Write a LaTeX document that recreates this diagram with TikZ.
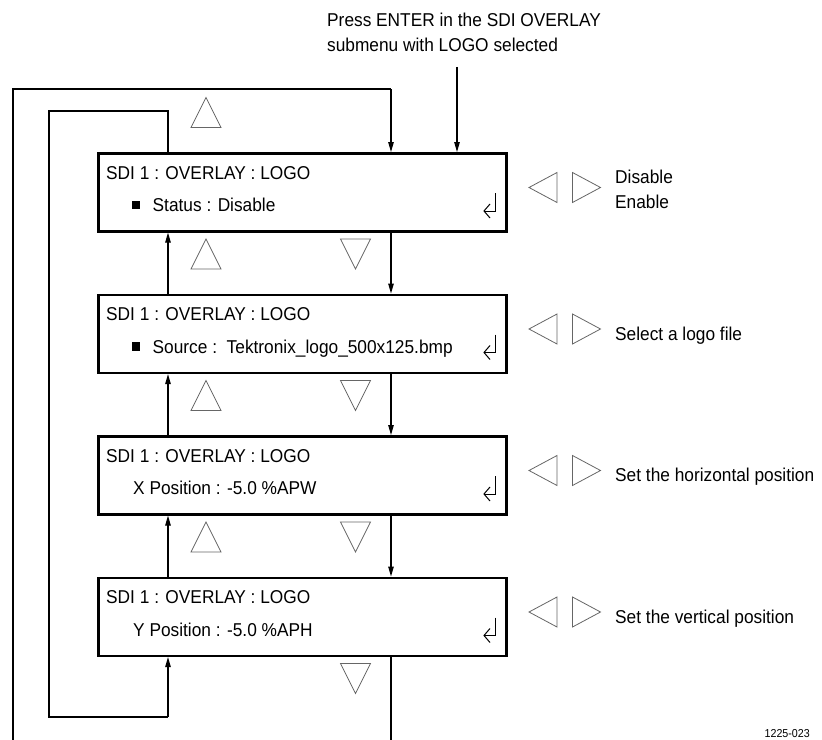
\documentclass[tikz,border=0pt]{standalone}
\usepackage{fontspec}
\setmainfont{Liberation Sans}[FakeStretch=0.93]
\usetikzlibrary{arrows.meta}
\begin{document}
\begin{tikzpicture}[x=1bp,y=-1bp,
  box/.style={draw,line width=2.6bp,minimum width=408bp,minimum height=78bp,anchor=north west,inner sep=0pt},
  txt/.style={font=\fontsize{18.6bp}{22bp}\selectfont,inner sep=0pt,anchor=base west},
  small/.style={font=\fontsize{11.5bp}{13bp}\selectfont,inner sep=0pt,anchor=base east},
  bullet/.style={fill,minimum size=8.5bp,inner sep=0pt},
  conn/.style={line width=1.1bp},
  arr/.style={conn,-{Triangle[length=10bp,width=5.5bp]}},
  tri/.style={draw=black!60,line width=0.8bp,fill=white,line join=miter},
  uptri/.pic={\draw[tri] (-15,15) -- (0,-15) -- (15,15) -- cycle;},
  dntri/.pic={\draw[tri] (-15,-15) -- (0,15) -- (15,-15) -- cycle;},
  lftri/.pic={\draw[tri] (14,-15) -- (-14,0) -- (14,15) -- cycle;},
  rttri/.pic={\draw[tri] (-14,-15) -- (14,0) -- (-14,15) -- cycle;},
]
\useasboundingbox (0,0) rectangle (822,740);
\clip (0,0) rectangle (822,740);

% boxes
\node[box] (b1) at (97,152) {};
\node[box] (b2) at (97,293.5) {};
\node[box] (b3) at (97,435) {};
\node[box] (b4) at (97,576.5) {};

% titles
\node[txt] (t1) at (106,179) {SDI 1 : OVERLAY : LOGO};
\node[txt] (t2) at (106,320.5) {SDI 1 : OVERLAY : LOGO};
\node[txt] (t3) at (106,462) {SDI 1 : OVERLAY : LOGO};
\node[txt] (t4) at (106,603.5) {SDI 1 : OVERLAY : LOGO};

% values
\node[bullet] (s1) at (136,205) {};
\node[txt] (v1) at (152.5,211.5) {Status : Disable};
\node[bullet] (s2) at (136,346.5) {};
\node[txt] (v2) at (152.5,353) {Source :\ \ Tektronix\_logo\_500x125.bmp};
\node[txt] (v3) at (133,494.5) {X Position : -5.0 \%APW};
\node[txt] (v4) at (133,636) {Y Position : -5.0 \%APH};

% enter symbols
\foreach \t in {152,293.5,435,576.5}{
  \draw[line width=1bp] (495,\t+41) -- (495,\t+59) -- (484,\t+59);
  \draw[line width=1bp] (490,\t+52) -- (484,\t+59) -- (490,\t+66);
}

% left/right triangles and labels
\foreach \t in {152,293.5,435,576.5}{
  \pic at (543,\t+35.5) {lftri};
  \pic at (586.5,\t+35.5) {rttri};
}
\node[txt] (r1a) at (615,183) {Disable};
\node[txt] (r1b) at (615,208) {Enable};
\node[txt] (r2) at (615,340) {Select a logo file};
\node[txt] (r3) at (615,481.5) {Set the horizontal position};
\node[txt] (r4) at (615,623) {Set the vertical position};

% up/down triangles
\pic at (206,112.5) {uptri};
\pic at (206,254) {uptri};
\pic at (206,395.5) {uptri};
\pic at (206,537) {uptri};
\pic at (355.5,254) {dntri};
\pic at (355.5,395.5) {dntri};
\pic at (355.5,537) {dntri};
\pic at (355.5,678.5) {dntri};

% connector x positions
\coordinate (dn) at (391,0);
\coordinate (up) at (168,0);

% down connectors
\draw[arr] (b1.south -| dn) -- (b2.north -| dn);
\draw[arr] (b2.south -| dn) -- (b3.north -| dn);
\draw[arr] (b3.south -| dn) -- (b4.north -| dn);
% up connectors
\draw[arr] (b2.north -| up) -- (b1.south -| up);
\draw[arr] (b3.north -| up) -- (b2.south -| up);
\draw[arr] (b4.north -| up) -- (b3.south -| up);

% inner loop (box 1 up -> box 4)
\coordinate (i1) at (168,111);
\coordinate (i2) at (49,111);
\coordinate (i3) at (49,717);
\coordinate (i4) at (168,717);
\draw[conn] (b1.north -| up) -- (i1) -- (i2) -- (i3) -- (i4);
\draw[arr] (i4) -- (b4.south -| up);

% outer loop (box 4 down -> box 1)
\coordinate (o1) at (391,750);
\coordinate (o2) at (13,750);
\coordinate (o3) at (13,89);
\coordinate (o4) at (391,89);
\draw[conn] (b4.south -| dn) -- (o1) -- (o2) -- (o3) -- (o4);
\draw[arr] (o4) -- (b1.north -| dn);

% entry
\node[txt] (n1) at (327,27) {Press ENTER in the SDI OVERLAY};
\node[txt] (n2) at (327,52) {submenu with LOGO selected};
\coordinate (e0) at (457,67);
\draw[arr] (e0) -- (b1.north -| e0);

\node[small] (id) at (810,737) {1225-023};
\end{tikzpicture}
\end{document}
